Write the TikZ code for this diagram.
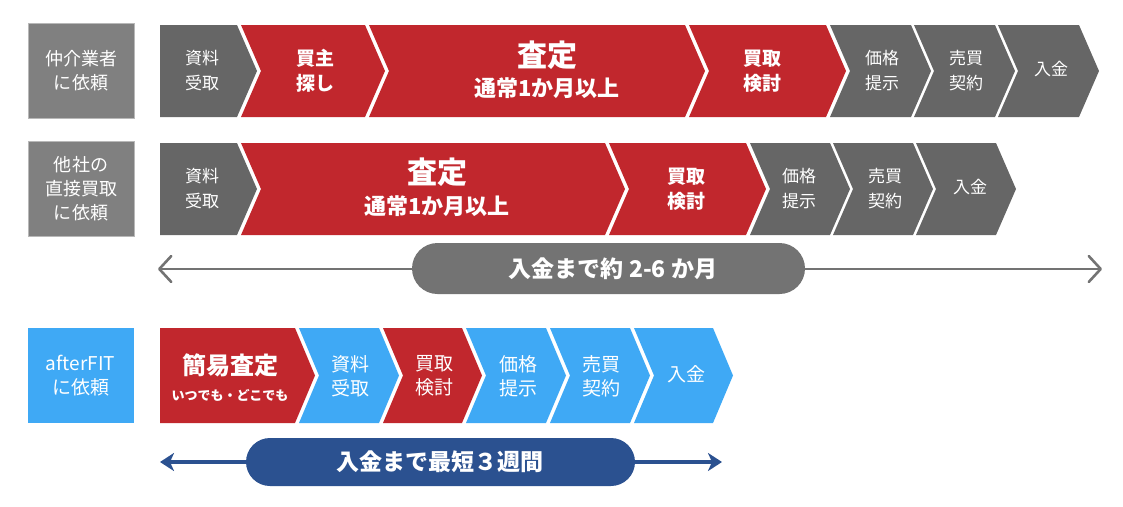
\documentclass[tikz,border=0pt]{standalone}
\usepackage{fontspec}
\setmainfont{Noto Sans CJK JP}
\usetikzlibrary{arrows.meta}
\definecolor{cgray}{HTML}{666666}
\definecolor{lgray}{HTML}{808080}
\definecolor{lborder}{HTML}{B8B8B8}
\definecolor{cred}{HTML}{C1272D}
\definecolor{cblue}{HTML}{3FA9F5}
\definecolor{dblue}{HTML}{2B5190}
\definecolor{pgray}{HTML}{737373}
\newcommand\chevflat[5]{\fill[#5] (#1,#3) -- (#2,#3) -- ({#2+20},{(#3+#4)/2}) -- (#2,#4) -- (#1,#4) -- cycle;}
\newcommand\chevnotch[5]{\fill[#5] (#1,#3) -- (#2,#3) -- ({#2+20},{(#3+#4)/2}) -- (#2,#4) -- (#1,#4) -- ({#1+20},{(#3+#4)/2}) -- cycle;}
\tikzset{
  labbox/.style={draw=lborder, line width=0.8pt, fill=lgray, text=white, minimum width=106pt, minimum height=95pt, align=center, inner sep=0pt, font=\fontsize{18}{24}\selectfont},
  bluebox/.style={labbox, draw=none, fill=cblue, font=\fontsize{19}{24}\selectfont},
  ctxt/.style={text=white, align=center, inner sep=0pt, font=\fontsize{17}{25}\selectfont},
  cbold/.style={ctxt, font=\fontsize{19}{25}\selectfont\bfseries},
  ctxtl/.style={ctxt, font=\fontsize{19}{24}\selectfont},
  bigt/.style={text=white, inner sep=0pt, font=\fontsize{30}{32}\selectfont\bfseries},
  subt/.style={text=white, inner sep=0pt, font=\fontsize{22}{24}\selectfont\bfseries},
  pilltxt/.style={text=white, inner sep=0pt, font=\fontsize{23}{25}\selectfont\bfseries},
  gtip/.tip={Straight Barb[length=12pt, width=26pt, line width=2.6pt, round]},
  garrow/.style={draw=pgray, line width=2.4pt, line cap=round, gtip-gtip},
  btip/.tip={Stealth[length=14pt, width=18pt, inset=4pt]},
  barrow/.style={draw=dblue, line width=4pt, btip-btip}
}
\begin{document}
\begin{tikzpicture}[x=1pt, y=-1pt]
\useasboundingbox (0,0) rectangle (1123,506);
% ---- row 1 ----
\node[labbox] (L1) at (81,70.5) {仲介業者\\に依頼};
\chevflat{160}{237}{25}{117}{cgray}
\chevnotch{241}{365}{25}{117}{cred}
\chevnotch{369}{685}{25}{117}{cred}
\chevnotch{689}{826}{25}{117}{cred}
\chevnotch{830}{911}{25}{117}{cgray}
\chevnotch{914}{995}{25}{117}{cgray}
\chevnotch{998}{1079}{25}{117}{cgray}
\node[ctxt] (a1) at (202,71) {資料\\受取};
\node[cbold] (a2) at (315,71) {買主\\探し};
\node[bigt] (a3) at (547,55) {査定};
\node[subt] (a3s) at (547,88) {通常1か月以上};
\node[cbold] (a4) at (762,71) {買取\\検討};
\node[ctxt] (a5) at (882,71) {価格\\提示};
\node[ctxt] (a6) at (966,71) {売買\\契約};
\node[ctxt] (a7) at (1051,69) {入金};
% ---- row 2 ----
\node[labbox] (L2) at (81,189) {他社の\\直接買取\\に依頼};
\chevflat{160}{237}{143}{235}{cgray}
\chevnotch{241}{605}{143}{235}{cred}
\chevnotch{609}{746}{143}{235}{cred}
\chevnotch{750}{830}{143}{235}{cgray}
\chevnotch{833}{913}{143}{235}{cgray}
\chevnotch{916}{996}{143}{235}{cgray}
\node[ctxt] (b1) at (202,189) {資料\\受取};
\node[bigt] (b2) at (437,172) {査定};
\node[subt] (b2s) at (437,206) {通常1か月以上};
\node[cbold] (b3) at (686,189) {買取\\検討};
\node[ctxt] (b4) at (799,189) {価格\\提示};
\node[ctxt] (b5) at (885,189) {売買\\契約};
\node[ctxt] (b6) at (970,187) {入金};
% ---- gray span arrow ----
\coordinate (g1) at (158,269);
\coordinate (g2) at (1102,269);
\draw[garrow] (g1) -- (g2);
\node[fill=pgray, minimum width=393pt, minimum height=51pt, rounded corners=25.5pt, inner sep=0pt] (P1) at (608.5,268.5) {};
\node[pilltxt] (P1t) at (613,268.5) {入金まで約 2-6 か月};
% ---- row 3 ----
\node[bluebox] (L3) at (80.5,375.5) {afterFIT\\に依頼};
\chevflat{160}{295}{328}{423}{cred}
\chevnotch{299}{379}{328}{423}{cblue}
\chevnotch{383}{462}{328}{423}{cred}
\chevnotch{466}{546}{328}{423}{cblue}
\chevnotch{550}{630}{328}{423}{cblue}
\chevnotch{634}{713}{328}{423}{cblue}
\node[text=white, inner sep=0pt, font=\fontsize{24}{26}\selectfont\bfseries] (c1) at (230,365) {簡易査定};
\node[text=white, inner sep=0pt, font=\fontsize{13}{15}\selectfont\bfseries] (c1s) at (230,395) {いつでも・どこでも};
\node[ctxtl] (c2) at (350,376) {資料\\受取};
\node[ctxtl] (c3) at (434,376) {買取\\検討};
\node[ctxtl] (c4) at (518,376) {価格\\提示};
\node[ctxtl] (c5) at (601,376) {売買\\契約};
\node[ctxtl] (c6) at (686,374) {入金};
% ---- blue span arrow ----
\coordinate (h1) at (160,462);
\coordinate (h2) at (722,462);
\draw[barrow] (h1) -- (h2);
\node[fill=dblue, minimum width=389pt, minimum height=48pt, rounded corners=24pt, inner sep=0pt] (P2) at (440.5,462) {};
\node[pilltxt] (P2t) at (440,462) {入金まで最短３週間};
\end{tikzpicture}
\end{document}
